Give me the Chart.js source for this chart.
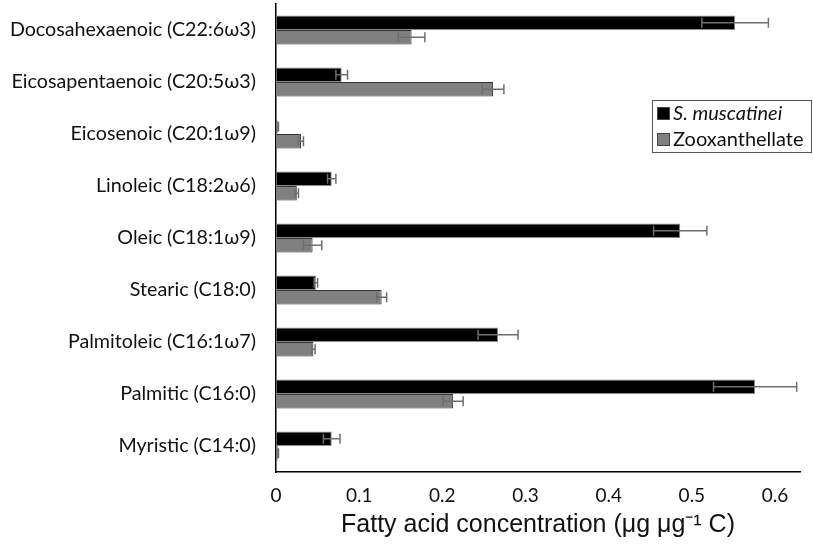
<!DOCTYPE html>
<html>
<head>
<meta charset="utf-8">
<script src="https://cdn.jsdelivr.net/npm/chart.js@4"></script>
<style>
  body { margin: 0; background: #fff; }
</style>
</head>
<body>
<canvas id="chart" width="813" height="545"></canvas>
<script>
// categories, top to bottom
const acids = ['Docosahexaenoic (C22:6\u03c93)', 'Eicosapentaenoic (C20:5\u03c93)', 'Eicosenoic (C20:1\u03c99)',
  'Linoleic (C18:2\u03c96)', 'Oleic (C18:1\u03c99)', 'Stearic (C18:0)', 'Palmitoleic (C16:1\u03c97)',
  'Palmitic (C16:0)', 'Myristic (C14:0)'];

// S. muscatinei values and errors
const muscatinei = [0.552, 0.079, 0.002, 0.067, 0.486, 0.048, 0.267, 0.576, 0.067];
const muscatineiErr = [0.040, 0.007, 0.001, 0.005, 0.032, 0.002, 0.024, 0.050, 0.010];

// Zooxanthellate values and errors
const zoox = [0.163, 0.261, 0.030, 0.025, 0.044, 0.127, 0.045, 0.213, 0.002];
const zooxErr = [0.016, 0.013, 0.003, 0.002, 0.011, 0.006, 0.002, 0.012, 0.001];

const xTicks = [0, 0.1, 0.2, 0.3, 0.4, 0.5, 0.6];

const labelFont = 'Lato, "Open Sans", sans-serif';

// draws the error bars with the chart's own scales
const errorBars = {
  id: 'errorBars',
  afterDatasetsDraw(chart) {
    const ctx = chart.ctx;
    const xs = chart.scales.x;
    chart.data.datasets.forEach((ds, i) => {
      const meta = chart.getDatasetMeta(i);
      meta.data.forEach((bar, j) => {
        const v = ds.data[j], e = ds.errors[j];
        const x1 = xs.getPixelForValue(v - e);
        const x2 = xs.getPixelForValue(v + e);
        const y = bar.y;
        ctx.save();
        ctx.strokeStyle = '#6e6e6e';
        ctx.lineWidth = 1.5;
        ctx.beginPath();
        ctx.moveTo(x1, y); ctx.lineTo(x2, y);
        ctx.moveTo(x1, y - 5); ctx.lineTo(x1, y + 5);
        ctx.moveTo(x2, y - 5); ctx.lineTo(x2, y + 5);
        ctx.stroke();
        ctx.restore();
      });
    });
  }
};

// boxed legend inside the plot, top right
const boxLegend = {
  id: 'boxLegend',
  afterDraw(chart) {
    const ctx = chart.ctx;
    const x = 652, y = 100, w = 159, h = 52;
    ctx.save();
    ctx.fillStyle = '#fff';
    ctx.fillRect(x, y, w, h);
    ctx.strokeStyle = '#555';
    ctx.lineWidth = 1;
    ctx.strokeRect(x + 0.5, y + 0.5, w, h);
    chart.data.datasets.forEach((ds, i) => {
      const cy = y + 13 + i * 26;
      ctx.fillStyle = ds.backgroundColor;
      ctx.fillRect(x + 5, cy - 6, 13, 13);
      ctx.strokeStyle = '#444';
      ctx.strokeRect(x + 5.5, cy - 5.5, 12, 12);
      ctx.fillStyle = '#111';
      ctx.font = (i === 0 ? 'italic ' : '') + '20px ' + labelFont;
      ctx.textBaseline = 'middle';
      ctx.textAlign = 'left';
      ctx.fillText(ds.label, x + 21, cy + 1);
    });
    ctx.restore();
  }
};

new Chart(document.getElementById('chart'), {
  type: 'bar',
  data: {
    labels: acids,
    datasets: [
      {
        label: 'S. muscatinei',
        data: muscatinei,
        errors: muscatineiErr,
        backgroundColor: '#000000',
        borderColor: '#8a8a8a',
        borderWidth: 1,
        categoryPercentage: 0.56,
        barPercentage: 1.0
      },
      {
        label: 'Zooxanthellate',
        data: zoox,
        errors: zooxErr,
        backgroundColor: '#808080',
        borderColor: '#333333',
        borderWidth: 1,
        categoryPercentage: 0.56,
        barPercentage: 1.0
      }
    ]
  },
  options: {
    indexAxis: 'y',
    responsive: false,
    animation: false,
    devicePixelRatio: 1,
    layout: { padding: { top: 4, right: 13, left: 0, bottom: 0 } },
    plugins: {
      legend: { display: false },
      tooltip: { enabled: false }
    },
    scales: {
      x: {
        min: 0,
        max: 0.63,
        afterBuildTicks: (scale) => { scale.ticks = xTicks.map(v => ({ value: v })); },
        afterFit: (scale) => { scale.height = 73; },
        grid: { display: true, drawOnChartArea: false, drawTicks: false, color: 'transparent' },
        border: { display: true, color: '#000', width: 1.5 },
        ticks: {
          color: '#111',
          padding: 12,
          font: { family: labelFont, size: 19 },
          callback: (v) => v === 0 ? '0' : Number(v).toFixed(1)
        },
        title: {
          display: true,
          text: 'Fatty acid concentration (\u03bcg \u03bcg\u207b\u00b9 C)',
          color: '#111',
          font: { family: '"Liberation Sans", Arial, sans-serif', size: 25 },
          padding: { top: 0, bottom: 5 }
        }
      },
      y: {
        afterFit: (scale) => {
          scale.width = 276;
          scale.paddingTop = 0;
          scale.paddingBottom = 0;
        },
        grid: { display: true, drawOnChartArea: false, drawTicks: false, color: 'transparent' },
        border: { display: true, color: '#000', width: 1.5 },
        ticks: {
          color: '#111',
          padding: 20,
          font: { family: labelFont, size: 19.7 }
        }
      }
    }
  },
  plugins: [errorBars, boxLegend]
});
</script>
</body>
</html>
